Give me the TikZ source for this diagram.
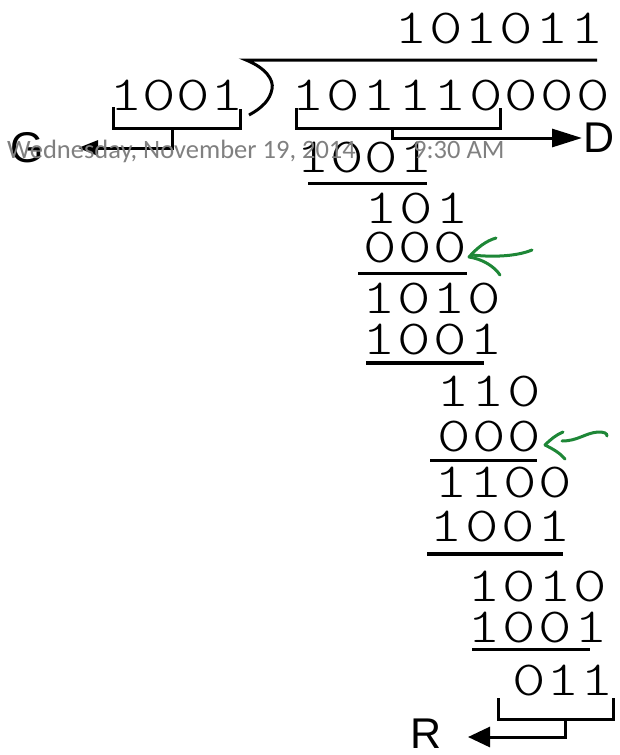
\documentclass[tikz,border=0pt]{standalone}
\usepackage{fontspec}
\newfontfamily\stampfont{Carlito}
\newfontfamily\letterfont{Liberation Sans}
\usetikzlibrary{arrows.meta}
\definecolor{pen}{RGB}{30,135,55}
\definecolor{stamp}{RGB}{128,128,128}
\tikzset{
  dig/.style={font=\fontsize{49}{49}\selectfont\ttfamily\fontseries{l}\selectfont, anchor=base, inner sep=0pt},
  lbl/.style={font=\fontsize{43}{43}\selectfont\letterfont, inner sep=0pt},
  rule/.style={line width=3pt},
  thickrule/.style={line width=4pt},
  brk/.style={line width=3pt},
  greenpen/.style={draw=pen, line width=3pt, line cap=round},
  stamptext/.style={font=\fontsize{26.5}{26.5}\selectfont\stampfont, text=stamp, anchor=base west, inner sep=0pt}
}
\newcommand\digrow[5]{\foreach \d [count=\i] in {#5} {\node[dig] (#1-\i) at ({#2+(\i-1)*#3},#4) {\scalebox{1.3}[1]{\d}};}}
\begin{document}
\begin{tikzpicture}[x=1pt,y=-1pt]
\useasboundingbox (0,0) rectangle (620,755);
% digits
\digrow{q}{411}{35.2}{43}{1,0,1,0,1,1}
\digrow{dv}{126}{33.7}{110}{1,0,0,1}
\digrow{dd}{308}{35.6}{110}{1,0,1,1,1,0,0,0,0}
\digrow{sa}{313}{34.3}{172}{1,0,0,1}
\digrow{ra}{381}{35.5}{223}{1,0,1}
\digrow{sb}{380.5}{35}{262}{0,0,0}
\digrow{rb}{379}{35.2}{313}{1,0,1,0}
\digrow{sc}{379}{35.7}{354}{1,0,0,1}
\digrow{rc}{453}{35.7}{406}{1,1,0}
\digrow{sd}{454.5}{35}{451}{0,0,0}
\digrow{rd}{451}{34.8}{497}{1,1,0,0}
\digrow{se}{446}{36}{541}{1,0,0,1}
\digrow{re}{484}{35.5}{601}{1,0,1,0}
\digrow{sf}{484}{35.7}{642}{1,0,0,1}
\digrow{rf}{529.5}{33.75}{695}{0,1,1}
% division sign
\draw[rule] (597,60) -- (246,60) .. controls (266,68) and (274,80) .. (272,89) .. controls (270,100) and (262,108) .. (249,115);
% underlines
\draw[rule] (308,183) -- (427,183);
\draw[rule] (358,273) -- (467,273);
\draw[thickrule] (366,363) -- (484,363);
\draw[rule] (430,460) -- (537,460);
\draw[thickrule] (427,554) -- (563,554);
\draw[rule] (472,649) -- (590,649);
% letters
\node[lbl] (G) at (27,148) {G};
\node[lbl] (D) at (599,137.5) {D};
\node[lbl] (R) at (426,734) {R};
% brackets
\coordinate (gstem) at (172,128);
\coordinate (gtip) at (78,148);
\draw[brk] (113,107) |- (240,128) -- (240,109);
\draw[brk,-{Triangle[length=20pt,width=15pt]}] (gstem) |- (gtip);
\coordinate (dstem) at (392,128);
\coordinate (dtip) at (582,138);
\draw[brk] (296,108) |- (500,128) -- (500,108);
\draw[brk,-{Triangle[length=30pt,width=18pt]}] (dstem) |- (dtip);
\coordinate (rstem) at (565,719);
\coordinate (rtip) at (468,737);
\draw[brk] (498,698) |- (613,719) -- (613,698);
\draw[brk,-{Triangle[length=22pt,width=20pt]}] (rstem) |- (rtip);
% green arrows
\draw[greenpen] (469,257) .. controls (478,247) and (486,241) .. (496,238);
\draw[greenpen] (469,257) .. controls (482,259) and (494,266) .. (500,275);
\draw[greenpen] (472,255) .. controls (490,257) and (515,257) .. (532,250);
\draw[greenpen] (545,445) .. controls (551,439) and (556,435) .. (563,432);
\draw[greenpen] (545,445) .. controls (553,449) and (560,453) .. (565,459);
\draw[greenpen] (562,441) .. controls (578,441) and (585,433) .. (598,432) .. controls (604,432) and (607,433) .. (607,436);
% timestamp
\node[stamptext] (ts1) at (7,158) {Wednesday, November 19, 2014};
\node[stamptext] (ts2) at (413,158) {9:30 AM};
\end{tikzpicture}
\end{document}
